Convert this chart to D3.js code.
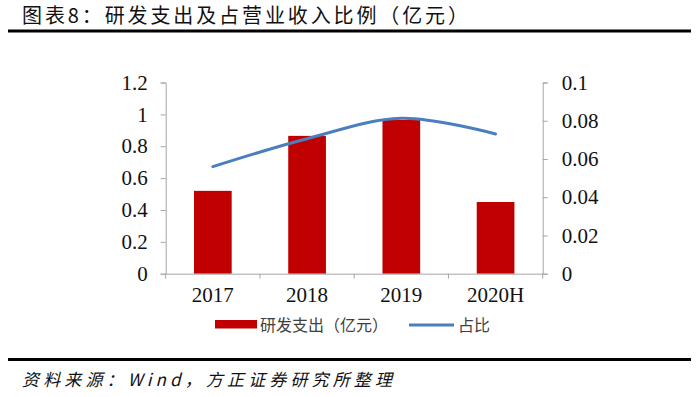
<!DOCTYPE html>
<html>
<head>
<meta charset="utf-8">
<script src="https://cdn.jsdelivr.net/npm/d3@7"></script>
<style>
	html, body { margin: 0; padding: 0; background: #fff; }
	svg { display: block; }
	.axis path, .axis line { stroke: #a6a6a6; }
	.axis text { font-family: "Liberation Serif", serif; font-size: 21px; fill: #111; }
</style>
</head>
<body>
<svg width="699" height="397"></svg>
<script>
const years = ["2017", "2018", "2019", "2020H"]
const spend = [0.52, 0.865, 0.965, 0.45]      // 研发支出（亿元）
const ratio = [0.056, 0.0706, 0.0813, 0.0731] // 占比
const leftTicks = [0, 0.2, 0.4, 0.6, 0.8, 1, 1.2]
const rightTicks = [0, 0.02, 0.04, 0.06, 0.08, 0.1]

const titleText = "图表8：研发支出及占营业收入比例（亿元）"
const sourceText = "资料来源：Wind，方正证券研究所整理"
const legendNames = ["研发支出（亿元）", "占比"]

const cjk = "'Noto Sans CJK SC', sans-serif"
const red = "#c00000"
const blue = "#4a7ebf"

const plot = {left: 165.7, right: 542.7, top: 82.5, bottom: 273.7}

const svg = d3.select("svg")

// title + rule
svg.append("text")
	.attr("x", 22)
	.attr("y", 23)
	.attr("textLength", 446)
	.attr("lengthAdjust", "spacing")
	.style("font-family", cjk)
	.style("font-size", "20px")
	.style("fill", "#111")
	.text(titleText)
svg.append("rect")
	.attr("x", 8).attr("y", 29.5)
	.attr("width", 683).attr("height", 3)
	.attr("fill", "#000")

const x = d3.scaleBand()
	.domain(years)
	.range([plot.left, plot.right])
const yL = d3.scaleLinear().domain([0, 1.2]).range([plot.bottom, plot.top])
const yR = d3.scaleLinear().domain([0, 0.1]).range([plot.bottom, plot.top])

// bars
const barW = x.bandwidth() * 0.4
svg.append("g")
	.selectAll("rect")
	.data(years)
	.join("rect")
	.attr("x", d => x(d) + (x.bandwidth() - barW) / 2)
	.attr("y", (d, i) => yL(spend[i]))
	.attr("width", barW)
	.attr("height", (d, i) => yL(0) - yL(spend[i]))
	.attr("fill", red)

// axes
svg.append("g")
	.attr("class", "axis axis--left")
	.attr("transform", "translate(" + plot.left + ",0)")
	.call(d3.axisLeft(yL).tickValues(leftTicks).tickSize(5).tickSizeOuter(5).tickPadding(13).tickFormat(d3.format("~g")))
svg.append("g")
	.attr("class", "axis axis--right")
	.attr("transform", "translate(" + plot.right + ",0)")
	.call(d3.axisRight(yR).tickValues(rightTicks).tickSize(5).tickSizeOuter(5).tickPadding(14).tickFormat(d3.format("~g")))

const xAxis = svg.append("g")
	.attr("class", "axis axis--x")
	.attr("transform", "translate(0," + plot.bottom + ")")
	.call(d3.axisBottom(x).tickSize(0).tickSizeOuter(0).tickPadding(13))
xAxis.selectAll(".tick text").attr("dy", "0.71em")
xAxis.selectAll(".boundary")
	.data(years.map(d => x(d)).concat([x.range()[1]]))
	.join("line")
	.attr("class", "boundary")
	.attr("x1", d => d).attr("x2", d => d)
	.attr("y1", 0).attr("y2", 5)

// ratio line (smoothed like the excel original)
const line = d3.line()
	.x((d, i) => x(years[i]) + x.bandwidth() / 2)
	.y(d => yR(d))
	.curve(d3.curveCatmullRom.alpha(0.5))
svg.append("path")
	.datum(ratio)
	.attr("fill", "none")
	.attr("stroke", blue)
	.attr("stroke-width", 3)
	.attr("stroke-linecap", "round")
	.attr("d", line)

// legend
const legend = svg.append("g").style("font-family", cjk).style("font-size", "16px").style("fill", "#404040")
legend.append("rect")
	.attr("x", 215).attr("y", 320)
	.attr("width", 42).attr("height", 8.5)
	.attr("fill", red)
legend.append("text").attr("x", 260).attr("y", 331).text(legendNames[0])
legend.append("line")
	.attr("x1", 409).attr("x2", 454)
	.attr("y1", 325).attr("y2", 325)
	.attr("stroke", blue)
	.attr("stroke-width", 3)
legend.append("text").attr("x", 458).attr("y", 331).text(legendNames[1])

// source + rule
svg.append("rect")
	.attr("x", 8).attr("y", 358)
	.attr("width", 683).attr("height", 3)
	.attr("fill", "#000")
svg.append("text")
	.attr("x", 22)
	.attr("y", 386)
	.attr("textLength", 370)
	.attr("lengthAdjust", "spacing")
	.style("font-family", cjk)
	.style("font-size", "17px")
	.style("font-style", "italic")
	.style("fill", "#111")
	.text(sourceText)
</script>
</body>
</html>
